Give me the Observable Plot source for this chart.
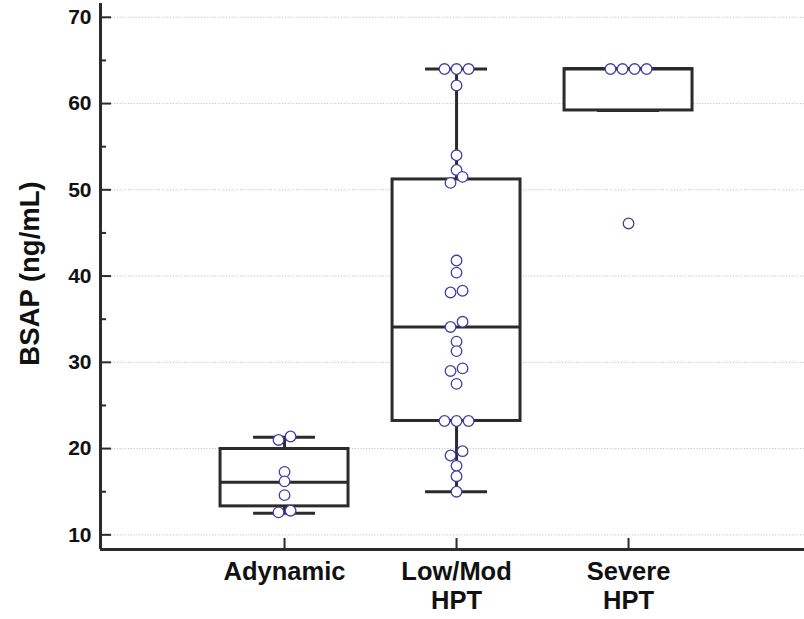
<!DOCTYPE html>
<html><head><meta charset="utf-8">
<script src="https://cdn.jsdelivr.net/npm/d3@7"></script>
<script src="https://cdn.jsdelivr.net/npm/@observablehq/plot@0.6"></script>
<style>
body{margin:0;background:#fff}
svg{font-family:"Liberation Sans",Arial,sans-serif}
</style>
</head><body><div id="chart"></div>
<script>
// Categories
const groups = ["Adynamic", "Low/Mod\nHPT", "Severe\nHPT"];
// Individual observations (BSAP, ng/mL)
const adynamic = [21.4, 21.0, 17.3, 16.2, 14.6, 12.8, 12.6];
const lowMod = [64, 64, 64, 62.1, 54.0, 52.3, 51.5, 50.8, 41.8, 40.4, 38.3, 38.1, 34.7, 34.1, 32.4, 31.3, 29.3, 29.0, 27.5, 23.2, 23.2, 23.2, 19.7, 19.2, 18.0, 16.8, 15.0];
const severe = [64, 64, 64, 64, 46.1];
// Box-plot summaries (per group)
const q1 = [13.3, 23.2, 59.2];
const median = [16.1, 34.1, 64];
const q3 = [19.95, 51.2, 64];
const whiskerLow = [12.5, 15.0, 59.2];
const whiskerHigh = [21.3, 64, 64];
// Axis ticks
const yTicks = [10, 20, 30, 40, 50, 60, 70];
const yMinorTicks = [15, 25, 35, 45, 55, 65];
const yDomain = [8.3, 71.6];
const xDomain = [-0.07, 4.023];

const series = [adynamic, lowMod, severe];
const boxes = groups.map((g, i) => ({pos: i + 1, q1: q1[i], median: median[i], q3: q3[i], lo: whiskerLow[i], hi: whiskerHigh[i]}));

// spread near-equal values symmetrically side by side
function clusterSlots(values, tol = 0.75) {
  const order = d3.range(values.length).sort((a, b) => values[b] - values[a]);
  const slots = new Array(values.length).fill(0);
  let k = 0;
  while (k < order.length) {
    const head = values[order[k]];
    let e = k;
    while (e + 1 < order.length && head - values[order[e + 1]] <= tol) e++;
    const members = order.slice(k, e + 1).reverse();
    const n = members.length;
    members.forEach((idx, m) => slots[idx] = m - (n - 1) / 2);
    k = e + 1;
  }
  return slots;
}
const points = series.flatMap((vals, gi) => {
  const slots = clusterSlots(vals);
  return vals.map((v, j) => ({pos: gi + 1, value: v, slot: slots[j]}));
});

const slotStep = 0.07, boxHalf = 0.372, capHalf = 0.18;
const ink = "#2b2b2b";

const chart = Plot.plot({
  width: 804, height: 619,
  marginLeft: 100, marginRight: 0, marginTop: 3, marginBottom: 70,
  x: {type: "linear", domain: xDomain, label: null},
  y: {domain: yDomain, label: null},
  style: {background: "#fff", color: "#111"},
  marks: [
    Plot.gridY(yTicks, {stroke: "#aaa", strokeOpacity: 0.7, strokeDasharray: "1.2,1.6", strokeWidth: 1}),
    Plot.ruleX(boxes, {x: "pos", y1: "lo", y2: "q1", stroke: ink, strokeWidth: 3}),
    Plot.ruleX(boxes, {x: "pos", y1: "q3", y2: "hi", stroke: ink, strokeWidth: 3}),
    Plot.ruleY(boxes, {y: "lo", x1: d => d.pos - capHalf, x2: d => d.pos + capHalf, stroke: ink, strokeWidth: 3}),
    Plot.ruleY(boxes, {y: "hi", x1: d => d.pos - capHalf, x2: d => d.pos + capHalf, stroke: ink, strokeWidth: 3}),
    Plot.rect(boxes, {x1: d => d.pos - boxHalf, x2: d => d.pos + boxHalf, y1: "q1", y2: "q3", fill: "white", stroke: ink, strokeWidth: 3}),
    Plot.ruleY(boxes, {y: "median", x1: d => d.pos - boxHalf, x2: d => d.pos + boxHalf, stroke: ink, strokeWidth: 3}),
    Plot.dot(points, {x: d => d.pos + d.slot * slotStep, y: "value", r: 5.3, fill: "white", stroke: "#4040a6", strokeWidth: 1.3}),
    Plot.axisY(yTicks, {tickSize: -11, fontSize: 21, fontWeight: "bold", strokeWidth: 2, stroke: ink}),
    Plot.axisY(yMinorTicks, {tickSize: -6, tickFormat: () => "", strokeWidth: 2, stroke: ink}),
    Plot.axisX([1, 2, 3], {tickSize: -11, tickPadding: 21, tickFormat: i => groups[i - 1], fontSize: 25.5, fontWeight: "bold", lineHeight: 1.14, strokeWidth: 2, stroke: ink}),
    Plot.ruleX([xDomain[0]], {stroke: ink, strokeWidth: 3}),
    Plot.ruleY([yDomain[0]], {stroke: ink, strokeWidth: 3}),
    Plot.text(["BSAP (ng/mL)"], {frameAnchor: "left", textAnchor: "middle", rotate: -90, dx: -70, dy: -3, fontSize: 27.5, fontWeight: "bold", fill: "#111"})
  ]
});
document.getElementById("chart").appendChild(chart);
</script>
</body></html>
